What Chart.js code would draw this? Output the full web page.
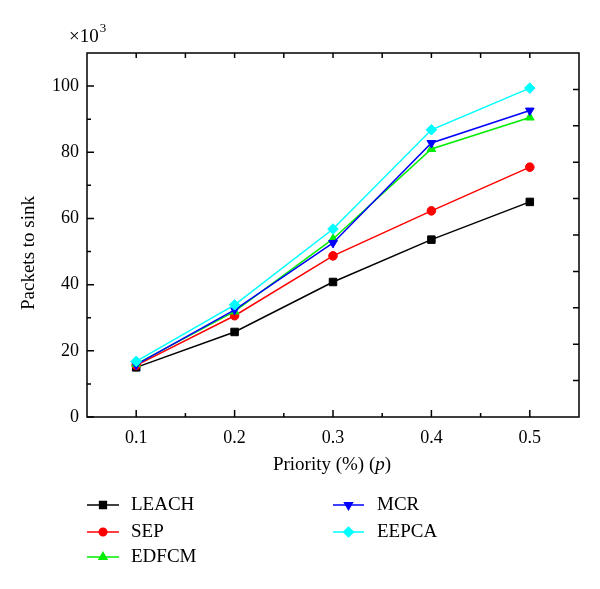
<!DOCTYPE html>
<html>
<head>
<meta charset="utf-8">
<script src="https://cdn.jsdelivr.net/npm/chart.js@4.4.0/dist/chart.umd.min.js"></script>
<style>
  body { margin: 0; background: #fff; }
  #wrap { width: 600px; height: 589px; }
</style>
</head>
<body>
<div id="wrap"><canvas id="lineChart" width="600" height="589"></canvas></div>
<script>
// values are x10^3 packets
const priority = [0.1, 0.2, 0.3, 0.4, 0.5];
const leach = [15.0, 25.7, 40.8, 53.6, 65.0];
const sep = [15.6, 30.6, 48.7, 62.3, 75.5];
const edfcm = [16.0, 31.9, 53.8, 81.0, 90.5];
const mcr = [15.8, 32.4, 52.6, 82.8, 92.6];
const eepca = [16.8, 33.9, 56.8, 86.8, 99.4];

const xTicks = [0.1, 0.2, 0.3, 0.4, 0.5];
const xMinor = [0.15, 0.25, 0.35, 0.45];
const xTop = [0.1, 0.15, 0.2, 0.25, 0.3, 0.35, 0.4, 0.45, 0.5];
const yTicks = [0, 20, 40, 60, 80, 100];
const yMinor = [10, 30, 50, 70, 90];
const yRight = [11, 22, 33, 44, 55, 66, 77, 88, 99];

const SERIF = "'Liberation Serif', 'Times New Roman', serif";

function pts(vals) {
  return priority.map((p, i) => ({ x: p, y: vals[i] }));
}

function series(label, vals, color, style, rot, radius, order) {
  return {
    label: label,
    data: pts(vals),
    borderColor: color,
    backgroundColor: color,
    pointBackgroundColor: color,
    pointBorderColor: color,
    pointStyle: style,
    rotation: rot,
    pointRadius: radius,
    pointBorderWidth: 1,
    borderWidth: 1.5,
    tension: 0,
    order: order,
  };
}

// inward ticks, box, titles and the legend
const frame = {
  id: "frame",
  afterDraw(chart) {
    const { ctx, chartArea: a, scales } = chart;
    const x = scales.x, y = scales.y;
    ctx.save();
    ctx.strokeStyle = "#000";
    ctx.lineWidth = 1.5;
    ctx.strokeRect(a.left, a.top, a.right - a.left, a.bottom - a.top);

    ctx.beginPath();
    xTicks.forEach(v => { const px = x.getPixelForValue(v); ctx.moveTo(px, a.bottom); ctx.lineTo(px, a.bottom - 7); });
    xMinor.forEach(v => { const px = x.getPixelForValue(v); ctx.moveTo(px, a.bottom); ctx.lineTo(px, a.bottom - 4); });
    xTop.forEach(v => { const px = x.getPixelForValue(v); ctx.moveTo(px, a.top); ctx.lineTo(px, a.top + 5); });
    yTicks.forEach(v => { const py = y.getPixelForValue(v); ctx.moveTo(a.left, py); ctx.lineTo(a.left + 7, py); });
    yMinor.forEach(v => { const py = y.getPixelForValue(v); ctx.moveTo(a.left, py); ctx.lineTo(a.left + 4, py); });
    yRight.forEach(v => { const py = y.getPixelForValue(v); ctx.moveTo(a.right, py); ctx.lineTo(a.right - 6, py); });
    ctx.stroke();

    ctx.fillStyle = "#000";
    ctx.textBaseline = "middle";

    // y title
    ctx.save();
    ctx.translate(29, 253);
    ctx.rotate(-Math.PI / 2);
    ctx.textAlign = "center";
    ctx.font = "19px " + SERIF;
    ctx.fillText("Packets to sink", 0, 0);
    ctx.restore();

    // x title with italic p
    const normal = "19px " + SERIF, italic = "italic 19px " + SERIF;
    ctx.textAlign = "left";
    ctx.font = normal;
    const w1 = ctx.measureText("Priority (%) (").width;
    const w3 = ctx.measureText(")").width;
    ctx.font = italic;
    const w2 = ctx.measureText("p").width;
    let tx = 332 - (w1 + w2 + w3) / 2;
    ctx.font = normal; ctx.fillText("Priority (%) (", tx, 465);
    ctx.font = italic; ctx.fillText("p", tx + w1, 465);
    ctx.font = normal; ctx.fillText(")", tx + w1 + w2, 465);

    // x10^3
    ctx.font = "19px " + SERIF;
    ctx.fillText("\u00d710", 69, 37);
    const w10 = ctx.measureText("\u00d710").width;
    ctx.font = "13px " + SERIF;
    ctx.fillText("3", 69 + w10 + 1, 29);

    // legend
    const spots = [
      [87, 119, 131, 505], [87, 119, 131, 532], [87, 119, 131, 557],
      [333, 364, 377, 505], [333, 364, 377, 532],
    ];
    chart.data.datasets.forEach((ds, i) => {
      const [l1, l2, tx0, ty] = spots[i];
      ctx.strokeStyle = ds.borderColor;
      ctx.lineWidth = 1.5;
      ctx.beginPath(); ctx.moveTo(l1, ty); ctx.lineTo(l2, ty); ctx.stroke();
      ctx.fillStyle = ds.pointBackgroundColor;
      Chart.helpers.drawPoint(ctx, {
        pointStyle: ds.pointStyle, rotation: ds.rotation, radius: ds.pointRadius - 0.5, borderWidth: 1,
      }, (l1 + l2) / 2, ty);
      ctx.fillStyle = "#000";
      ctx.font = "19px " + SERIF;
      ctx.textAlign = "left";
      ctx.fillText(ds.label, tx0, ty);
    });
    ctx.restore();
  },
};

new Chart(document.getElementById("lineChart").getContext("2d"), {
  type: "line",
  data: {
    datasets: [
      series("LEACH", leach, "#000000", "rect", 0, 5.3, 5),
      series("SEP", sep, "#ff0000", "circle", 0, 4.3, 4),
      series("EDFCM", edfcm, "#00ee00", "triangle", 0, 5, 3),
      series("MCR", mcr, "#0000ff", "triangle", 180, 5, 2),
      series("EEPCA", eepca, "#00ffff", "rectRot", 0, 5.3, 1),
    ],
  },
  options: {
    responsive: false,
    animation: false,
    layout: { padding: { top: 53, right: 21, bottom: 132, left: 0 } },
    plugins: {
      legend: { display: false },
      tooltip: { enabled: false },
    },
    scales: {
      x: {
        type: "linear",
        min: 0.05,
        max: 0.55,
        afterBuildTicks: s => { s.ticks = xTicks.map(v => ({ value: v })); },
        afterFit: s => { s.height = 40; },
        grid: { display: false, drawTicks: false },
        border: { display: false },
        ticks: {
          padding: 10,
          color: "#000",
          font: { family: SERIF, size: 18 },
          callback: v => v.toFixed(1),
        },
      },
      y: {
        min: 0,
        max: 110,
        afterBuildTicks: s => { s.ticks = yTicks.map(v => ({ value: v })); },
        afterFit: s => { s.width = 87; },
        grid: { display: false, drawTicks: false },
        border: { display: false },
        ticks: {
          padding: 8,
          color: "#000",
          font: { family: SERIF, size: 18 },
        },
      },
    },
  },
  plugins: [frame],
});
</script>
</body>
</html>
